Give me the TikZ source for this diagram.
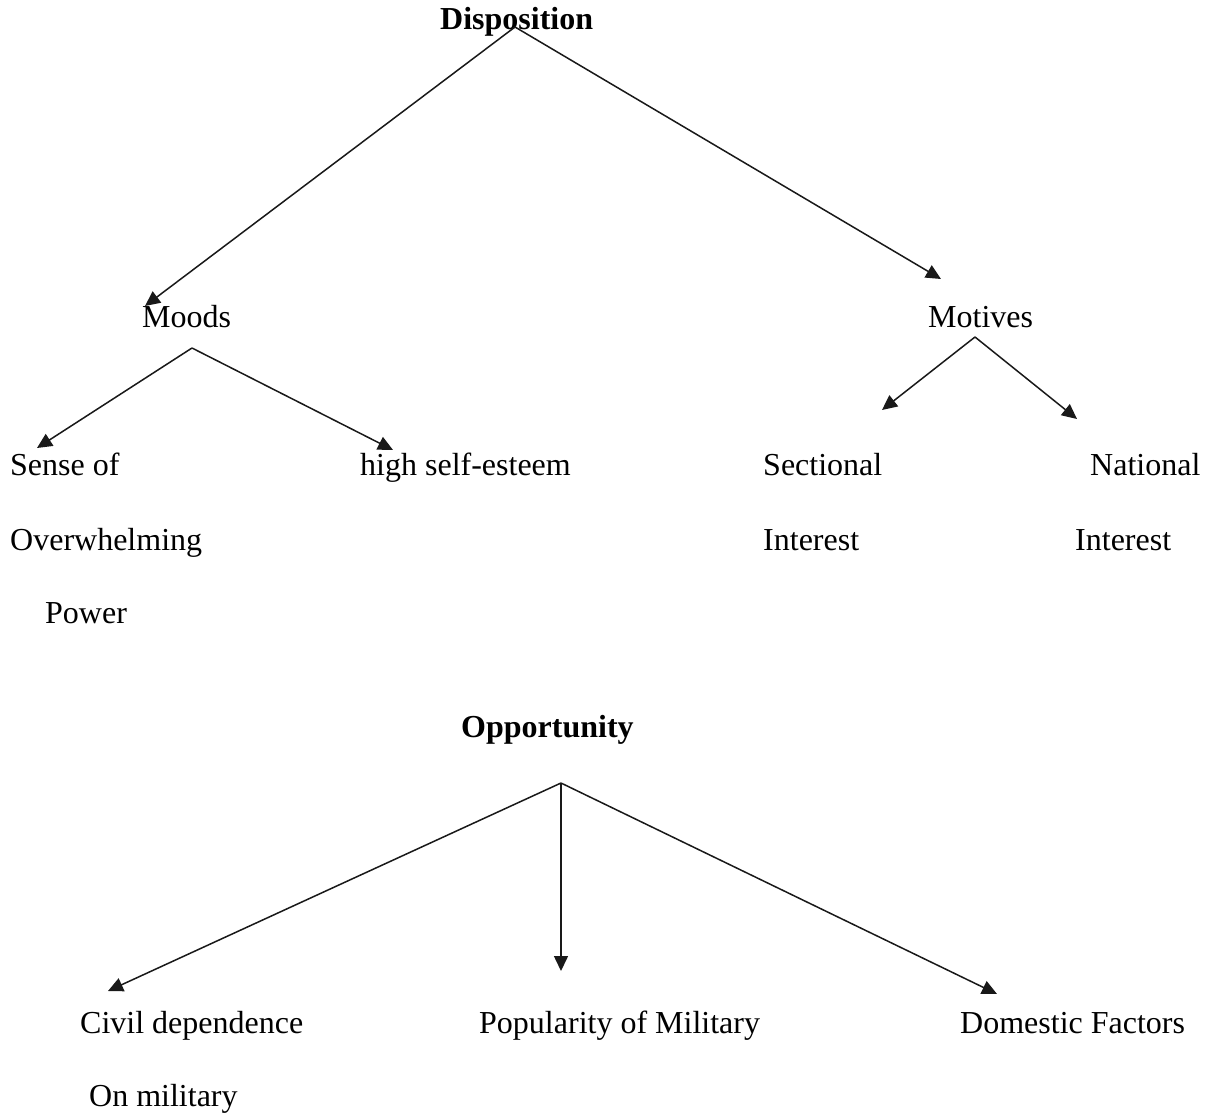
\documentclass[tikz,border=0pt]{standalone}
\usepackage{fontspec}
\setmainfont{Liberation Serif}
\usetikzlibrary{arrows.meta}
\begin{document}
\begin{tikzpicture}[x=1pt,y=-1pt,
  lbl/.style={anchor=base west,inner sep=0pt,font=\fontsize{32}{38}\selectfont},
  hd/.style={lbl,font=\fontsize{32}{38}\selectfont\bfseries},
  arr/.style={draw=black!90,line width=1.5pt,-{Triangle[length=15pt,width=14pt]}}]
\useasboundingbox[fill=white] (0,0) rectangle (1207,1113);
% texts
\node[hd]  (disp) at (440,30) {Disposition};
\node[lbl] (moods) at (142,327) {Moods};
\node[lbl] (motives) at (928,327) {Motives};
\node[lbl] (sense) at (10,475) {Sense of};
\node[lbl] (over) at (10,550) {Overwhelming};
\node[lbl] (power) at (45,623) {Power};
\node[lbl] (high) at (360,475) {high self-esteem};
\node[lbl] (sect) at (763,475) {Sectional};
\node[lbl] (sint) at (763,550) {Interest};
\node[lbl] (nat) at (1090,475) {National};
\node[lbl] (nint) at (1075,550) {Interest};
\node[hd]  (opp) at (461,737) {Opportunity};
\node[lbl] (civil) at (80,1033) {Civil dependence};
\node[lbl] (onmil) at (89,1106) {On military};
\node[lbl] (pop) at (479,1033) {Popularity of Military};
\node[lbl] (dom) at (960,1033) {Domestic Factors};
% connector ends
\coordinate (d0) at (515,27);
\coordinate (dMo) at (145,306);
\coordinate (dMt) at (941,279);
\coordinate (m0) at (192,348);
\coordinate (mS) at (37,448);
\coordinate (mH) at (393,450);
\coordinate (t0) at (975,337);
\coordinate (tS) at (882,410);
\coordinate (tN) at (1077,419);
\coordinate (o0) at (561,783);
\coordinate (oC) at (108,991);
\coordinate (oP) at (561,971);
\coordinate (oD) at (997,994);
% connectors
\draw[arr] (d0) -- (dMo);
\draw[arr] (d0) -- (dMt);
\draw[arr] (m0) -- (mS);
\draw[arr] (m0) -- (mH);
\draw[arr] (t0) -- (tS);
\draw[arr] (t0) -- (tN);
\draw[arr] (o0) -- (oC);
\draw[arr] (o0) -- (oP);
\draw[arr] (o0) -- (oD);
\end{tikzpicture}
\end{document}
